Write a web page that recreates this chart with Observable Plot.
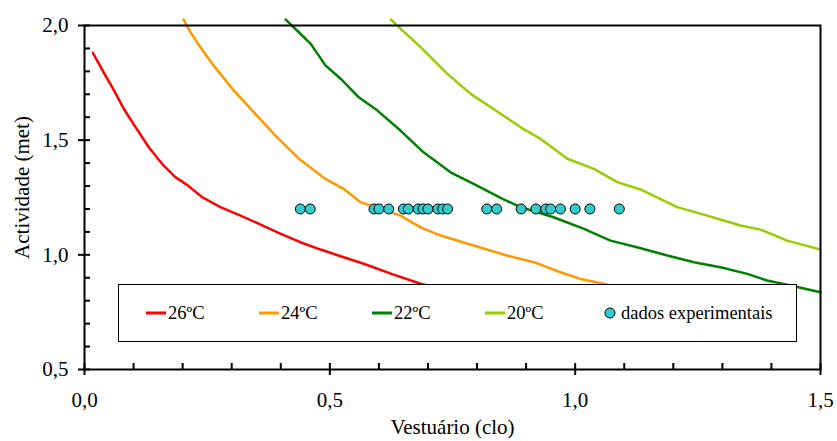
<!DOCTYPE html>
<html><head><meta charset="utf-8">
<script src="https://cdn.jsdelivr.net/npm/d3@7"></script>
<script src="https://cdn.jsdelivr.net/npm/@observablehq/plot@0.6"></script>
<style>
html,body{margin:0;padding:0;background:#fff;}
#wrap{position:relative;width:837px;height:441px;font-family:"Liberation Serif","Times New Roman",serif;}
#legend{position:absolute;left:118px;top:284px;width:679px;height:58px;box-sizing:border-box;border:1px solid #000;background:#fff;}
.item{position:absolute;top:0;height:100%;display:flex;align-items:center;font-size:18.5px;color:#000;white-space:nowrap;font-family:"Liberation Serif",serif;}
.item svg{display:block;}
</style></head><body><div id="wrap"></div>
<script>
// Series names and colours
const seriesNames = ["26ºC", "24ºC", "22ºC", "20ºC"];
const seriesColors = ["#FF0000", "#FF9900", "#008000", "#99CC00"];

// 26ºC curve
const c26X = [0.017,0.039,0.060,0.080,0.104,0.131,0.158,0.185,0.209,0.240,0.277,0.318,0.359,0.400,0.440,0.481,0.522,0.569,0.630,0.685,0.700];
const c26Y = [1.881,1.796,1.717,1.637,1.557,1.469,1.397,1.339,1.305,1.251,1.208,1.171,1.132,1.091,1.055,1.023,0.994,0.961,0.914,0.874,0.866];
// 24ºC curve
const c24X = [0.202,0.216,0.236,0.263,0.304,0.345,0.389,0.437,0.491,0.528,0.562,0.603,0.644,0.685,0.726,0.793,0.861,0.916,0.970,1.011,1.058,1.070];
const c24Y = [2.026,1.971,1.905,1.826,1.717,1.622,1.520,1.419,1.331,1.288,1.230,1.201,1.171,1.120,1.084,1.041,0.997,0.968,0.924,0.895,0.874,0.866];
// 22ºC curve
const c22X = [0.410,0.440,0.461,0.491,0.522,0.559,0.597,0.644,0.691,0.746,0.800,0.848,0.889,0.956,1.018,1.072,1.126,1.188,1.242,1.296,1.351,1.391,1.439,1.500];
const c22Y = [2.026,1.964,1.920,1.826,1.768,1.687,1.629,1.542,1.447,1.360,1.302,1.248,1.208,1.164,1.113,1.062,1.033,0.997,0.968,0.946,0.917,0.888,0.866,0.837];
// 20ºC curve
const c20X = [0.624,0.644,0.685,0.739,0.787,0.848,0.889,0.929,0.984,1.038,1.086,1.133,1.208,1.269,1.337,1.378,1.432,1.500];
const c20Y = [2.026,1.986,1.906,1.790,1.702,1.615,1.556,1.506,1.419,1.375,1.317,1.285,1.208,1.171,1.128,1.110,1.062,1.023];

// dados experimentais
const dadosLabel = "dados experimentais";
const dadosX = [0.44,0.46,0.59,0.60,0.62,0.65,0.66,0.68,0.69,0.70,0.72,0.73,0.74,0.82,0.84,0.89,0.92,0.94,0.95,0.97,1.00,1.03,1.09];
const dadosY = [1.2,1.2,1.2,1.2,1.2,1.2,1.2,1.2,1.2,1.2,1.2,1.2,1.2,1.2,1.2,1.2,1.2,1.2,1.2,1.2,1.2,1.2,1.2];

// Axes
const xMajor = [0.0, 0.5, 1.0, 1.5];
const xMinor = [0,0.1,0.2,0.3,0.4,0.5,0.6,0.7,0.8,0.9,1.0,1.1,1.2,1.3,1.4,1.5];
const yMajor = [0.5, 1.0, 1.5, 2.0];
const yMinor = [0.5,0.6,0.7,0.8,0.9,1.0,1.1,1.2,1.3,1.4,1.5,1.6,1.7,1.8,1.9,2.0];
const xTitle = "Vestuário (clo)";
const yTitle = "Actividade (met)";

const seriesX = [c26X, c24X, c22X, c20X];
const seriesY = [c26Y, c24Y, c22Y, c20Y];
const rows = [];
seriesNames.forEach((name, i) => seriesX[i].forEach((x, j) => rows.push({serie: name, x, y: seriesY[i][j]})));
const dados = dadosX.map((x, i) => ({x, y: dadosY[i]}));

const fmt = d => d.toFixed(1).replace(".", ",");
const blank = () => "";

const chart = Plot.plot({
  width: 837, height: 441,
  marginLeft: 84, marginRight: 17, marginTop: 25, marginBottom: 72,
  style: {fontFamily: "Liberation Serif, serif", color: "#000", background: "#fff", overflow: "visible"},
  x: {domain: [0, 1.5]},
  y: {domain: [0.5, 2]},
  color: {domain: seriesNames, range: seriesColors},
  marks: [
    Plot.line(rows, {x: "x", y: "y", z: "serie", stroke: "serie", strokeWidth: 2.5}),
    Plot.dot(dados, {x: "x", y: "y", r: 5, fill: "#33CCCC", stroke: "#000", strokeWidth: 1}),
    Plot.frame({stroke: "#000", strokeWidth: 2}),
    Plot.axisX(xMinor, {tickSize: 6, dy: -6, tickFormat: blank, label: null, strokeWidth: 2}),
    Plot.axisX(xMajor, {tickSize: 6, tickPadding: 16.5, tickFormat: fmt, fontSize: 21, label: null, strokeWidth: 2}),
    Plot.axisY(yMinor, {tickSize: 6, dx: 6, tickFormat: blank, label: null, strokeWidth: 2}),
    Plot.axisY(yMajor, {tickSize: 6, tickPadding: 10, tickFormat: fmt, fontSize: 21, label: null, strokeWidth: 2}),
    Plot.text([xTitle], {frameAnchor: "bottom", lineAnchor: "bottom", dy: 64, fontSize: 21}),
    Plot.text([yTitle], {frameAnchor: "left", textAnchor: "middle", lineAnchor: "middle", rotate: -90, dx: -62, dy: -10, fontSize: 21})
  ]
});
const wrap = document.getElementById("wrap");
wrap.appendChild(chart);

// Legend (inside the plot area)
const legend = document.createElement("div");
legend.id = "legend";
const lineLefts = [27, 140, 253, 366];
seriesNames.forEach((name, i) => {
  const it = document.createElement("div");
  it.className = "item";
  it.style.left = lineLefts[i] + "px";
  it.innerHTML = `<svg width="20" height="6"><line x1="0" y1="3" x2="20" y2="3" stroke="${seriesColors[i]}" stroke-width="3"/></svg><span style="margin-left:2px">${name}</span>`;
  legend.appendChild(it);
});
const dit = document.createElement("div");
dit.className = "item";
dit.style.left = "485px";
dit.innerHTML = `<svg width="12" height="12"><circle cx="6" cy="6" r="5" fill="#33CCCC" stroke="#000" stroke-width="1"/></svg><span style="margin-left:5px">${dadosLabel}</span>`;
legend.appendChild(dit);
wrap.appendChild(legend);
</script>
</body></html>
